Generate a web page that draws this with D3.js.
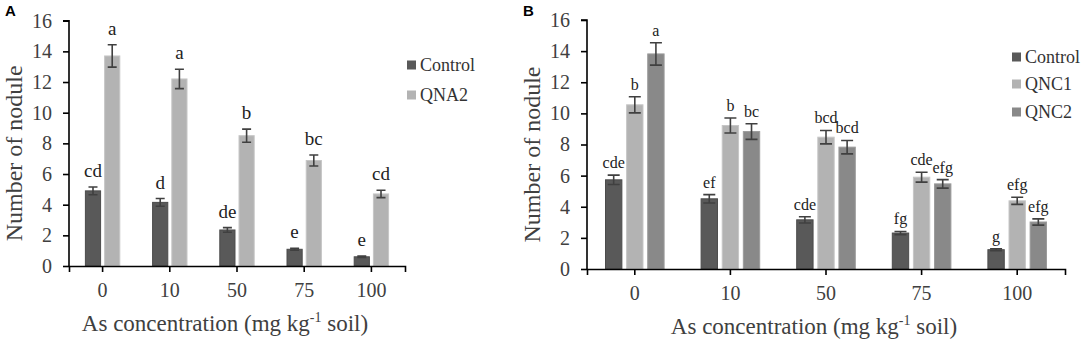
<!DOCTYPE html>
<html lang="en">
<head>
	<meta charset="UTF-8">
	<title>Number of nodule</title>
	<style>
		body { margin: 0; background: #fff; }
		svg text { font-family: "Liberation Serif", "Times New Roman", serif; }
	</style>
	<script src="https://cdn.jsdelivr.net/npm/d3@7"></script>
</head>
<body>
	<script type="text/javascript">
// data
		const concentrations = ["0", "10", "50", "75", "100"]
		const yTicks = [0, 2, 4, 6, 8, 10, 12, 14, 16]

// panel A
		const controlA = [4.9, 4.15, 2.35, 1.09, 0.6]
		const controlAErr = [0.25, 0.25, 0.15, 0.06, 0.05]
		const controlALetters = ["cd", "d", "de", "e", "e"]
		const qna2 = [13.7, 12.2, 8.5, 6.88, 4.7]
		const qna2Err = [0.73, 0.63, 0.43, 0.36, 0.24]
		const qna2Letters = ["a", "a", "b", "bc", "cd"]

// panel B
		const controlB = [5.73, 4.51, 3.16, 2.31, 1.24]
		const controlBErr = [0.3, 0.27, 0.2, 0.1, 0.06]
		const controlBLetters = ["cde", "ef", "cde", "fg", "g"]
		const qnc1 = [10.55, 9.22, 8.47, 5.9, 4.38]
		const qnc1Err = [0.52, 0.48, 0.43, 0.32, 0.23]
		const qnc1Letters = ["b", "b", "bcd", "cde", "efg"]
		const qnc2 = [13.82, 8.83, 7.83, 5.47, 3.02]
		const qnc2Err = [0.72, 0.5, 0.43, 0.27, 0.2]
		const qnc2Letters = ["a", "bc", "bcd", "efg", "efg"]

		const serif = "'Liberation Serif', 'Times New Roman', serif"

		const colors = {
			"Control": { fill: "#595959", stroke: "#4b4b4b" },
			"QNA2": { fill: "#b3b3b3", stroke: "#c6c6c6" },
			"QNC1": { fill: "#b3b3b3", stroke: "#c6c6c6" },
			"QNC2": { fill: "#898989", stroke: "#9b9b9b" }
		}

		const svg = d3.select("body").append("svg")
			.attr("width", 1084)
			.attr("height", 344)

		function drawPanel(p) {
			const g = svg.append("g")

			const x = d3.scaleBand()
				.domain(concentrations)
				.range([p.left, p.right])

			const y = d3.scaleLinear()
				.domain([0, 16])
				.range([p.bottom, p.top])

			const inner = d3.scaleBand()
				.domain(p.series.map(s => s.name))
				.range([-p.groupW / 2, p.groupW / 2])
				.paddingInner(p.gapRatio)

//bars, error bars and letters
			p.series.forEach(function(s) {
				const rows = concentrations.map((c, i) => ({ c: c, v: s.values[i], e: s.err[i], l: s.letters[i] }))
				const cx = d => x(d.c) + x.bandwidth() / 2 + inner(s.name)

				g.selectAll(null)
					.data(rows)
					.join("rect")
					.attr("x", d => cx(d))
					.attr("y", d => y(d.v))
					.attr("width", inner.bandwidth())
					.attr("height", d => y(0) - y(d.v))
					.style("fill", colors[s.name].fill)
					.style("stroke", colors[s.name].stroke)
					.style("stroke-width", 1)

				const mid = d => cx(d) + inner.bandwidth() / 2

				g.selectAll(null)
					.data(rows)
					.join("path")
					.attr("d", function(d) {
						const t = y(d.v + d.e), b = y(d.v - d.e), m = mid(d)
						return "M" + (m - p.cap) + "," + t + "H" + (m + p.cap) +
							"M" + m + "," + t + "V" + b +
							"M" + (m - p.cap) + "," + b + "H" + (m + p.cap)
					})
					.style("fill", "none")
					.style("stroke", "#404040")
					.style("stroke-width", 1.6)

				g.selectAll(null)
					.data(rows)
					.join("text")
					.attr("x", d => mid(d))
					.attr("y", d => y(d.v + d.e) - p.letterGap)
					.attr("text-anchor", "middle")
					.style("font-family", serif)
					.style("font-size", p.letterSize + "px")
					.style("fill", "#222")
					.text(d => d.l)
			})

//axes
			const yAxis = g.append("g")
				.attr("transform", "translate(" + p.left + ",0)")
				.call(d3.axisLeft(y).tickValues(yTicks).tickSize(6).tickPadding(11))
			yAxis.select(".domain").attr("d", "M0," + (p.bottom + 0.5) + "V" + p.top + "H-6")
			yAxis.selectAll("text").style("font-size", "20px").style("fill", "#404040")
				.style("font-family", serif)

			const xAxis = g.append("g")
				.attr("transform", "translate(0," + p.bottom + ")")
				.call(d3.axisBottom(x).tickSize(6).tickSizeOuter(6).tickPadding(11))
			xAxis.selectAll("text").style("font-size", "20px").style("fill", "#404040")
				.style("font-family", serif)
			g.selectAll(".domain, .tick line").style("stroke", "#000").style("stroke-width", 1.6)

//titles
			const xt = g.append("text")
				.attr("x", (p.left + p.right) / 2 - 12)
				.attr("y", p.bottom + 65)
				.attr("text-anchor", "middle")
				.style("font-family", serif)
				.style("font-size", "23px")
				.style("fill", "#404040")
			xt.append("tspan").text("As concentration (mg kg")
			xt.append("tspan").attr("dy", -9).style("font-size", "14px").text("-1")
			xt.append("tspan").attr("dy", 9).text(" soil)")

			g.append("text")
				.attr("transform", "translate(" + (p.left - 47) + "," + ((p.top + p.bottom) / 2 + 10) + ") rotate(-90)")
				.attr("text-anchor", "middle")
				.style("font-family", serif)
				.style("font-size", "24px")
				.style("fill", "#404040")
				.text("Number of nodule")

			g.append("text")
				.attr("x", p.tagX)
				.attr("y", 16)
				.style("font-family", "Arial, 'Liberation Sans', sans-serif")
				.style("font-weight", "bold")
				.style("font-size", "15px")
				.text(p.tag)

//legend
			const leg = g.selectAll(".legend")
				.data(p.series)
				.join("g")
				.attr("transform", (d, i) => "translate(" + p.legX + "," + p.legY[i] + ")")
			leg.append("rect")
				.attr("x", 0).attr("y", -4.5).attr("width", 9).attr("height", 9)
				.style("fill", d => colors[d.name].fill)
			leg.append("text")
				.attr("x", 13).attr("y", 6)
				.style("font-family", serif)
				.style("font-size", "18px")
				.style("fill", "#333")
				.text(d => d.name)
		}

		drawPanel({
			tag: "A", tagX: 5,
			left: 69, right: 405, top: 20.7, bottom: 266,
			groupW: 34.4, gapRatio: 0.21, cap: 4.5, letterGap: 10, letterSize: 19,
			legX: 407, legY: [65, 95],
			series: [
				{ name: "Control", values: controlA, err: controlAErr, letters: controlALetters },
				{ name: "QNA2", values: qna2, err: qna2Err, letters: qna2Letters }
			]
		})

		drawPanel({
			tag: "B", tagX: 523,
			left: 587, right: 1065, top: 20, bottom: 269,
			groupW: 58.6, gapRatio: 0.225, cap: 6, letterGap: 7, letterSize: 16,
			legX: 1012, legY: [57, 84, 112],
			series: [
				{ name: "Control", values: controlB, err: controlBErr, letters: controlBLetters },
				{ name: "QNC1", values: qnc1, err: qnc1Err, letters: qnc1Letters },
				{ name: "QNC2", values: qnc2, err: qnc2Err, letters: qnc2Letters }
			]
		})
	</script>
</body>
</html>
